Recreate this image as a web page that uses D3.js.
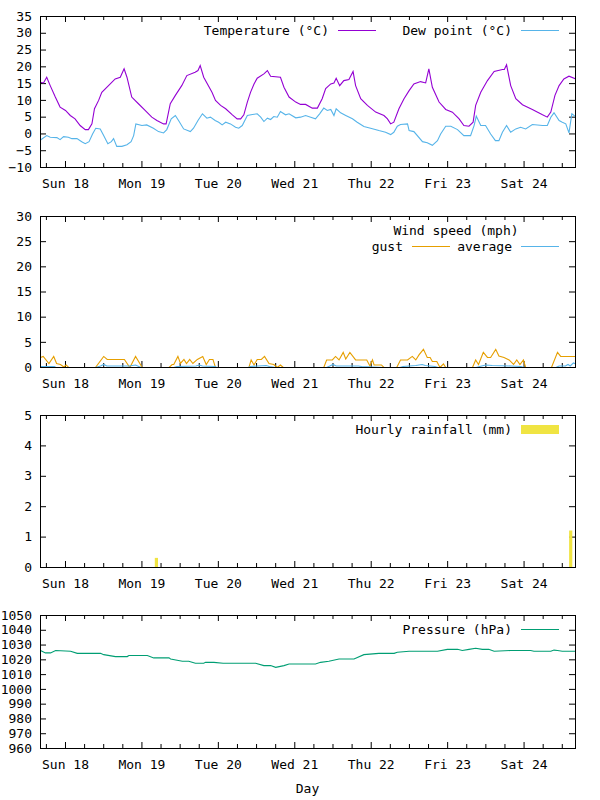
<!DOCTYPE html>
<html>
<head>
<meta charset="utf-8">
<script src="https://cdn.jsdelivr.net/npm/d3@7"></script>
<style>
body { margin: 0; background: #fff; }
text { font-family: "DejaVu Sans Mono", monospace; font-size: 13px; fill: #000; }
</style>
</head>
<body>
<script>
// all series: [hours from Sun 18 00:00, value]
const temperature = [
  [-7.85,15.4],[-6.9,15.2],[-5.9,16.9],[-4.8,14.4],[-3.2,11],[-1.7,8.0],[0,7.0],[1.5,5.5],[3.0,4.5],
  [4.6,2.5],[6.2,1.3],[7.2,1.3],[8.3,3.0],[9.1,7.5],[10.4,10],[11.4,12.4],[13.5,14.4],[15.6,16.4],
  [17.2,16.9],[18.4,19.4],[19.3,16.9],[20.8,11],[22.9,9],[25.0,7],[27.1,5],[28.7,4],[30.8,3],[31.6,3],
  [32.9,9],[34.5,11.5],[36.5,14.4],[38.1,17.4],[40.7,18.4],[41.6,18.9],[42.3,20.4],[43.4,16.9],
  [46.0,12.4],[47.1,10.0],[48.7,8.5],[50.3,7.5],[52.4,5.7],[53.9,4.5],[55.0,4.5],[56.0,5.7],[57.1,9.5],
  [58.1,12.4],[59.2,14.9],[60.2,16.6],[62.3,17.9],[63.4,18.9],[64.4,17.2],[67.5,16.9],[68.6,13.9],
  [70.2,11],[72.3,9.5],[73.8,8.8],[75.4,8.8],[77.5,7.7],[79.1,7.7],[80.6,10.5],[81.7,13.5],[83.3,14.9],
  [84.3,15.2],[85.0,16.6],[86.1,14.4],[87.4,15.9],[89.0,16.2],[90.3,18.6],[91.1,14.4],[92.7,10.5],
  [94.8,8.5],[97.4,6.5],[100.0,5.5],[101.1,4.5],[102.1,3.0],[103.1,3.5],[104.7,7.5],[106.3,10.5],
  [107.9,12.9],[109.4,14.9],[111.5,15.6],[113.1,15.2],[114.1,19.4],[115.2,13.9],[117.3,9.5],[119.4,7.3],
  [121.5,6.5],[123.6,4.5],[125.1,2.5],[126.7,2.3],[128.0,3.5],[128.8,8.5],[130.4,12.4],[132.5,15.9],
  [134.6,18.6],[137.2,19.2],[137.8,19.2],[138.5,20.6],[139.8,14.4],[141.4,10.5],[143.5,8.7],[146.6,7.3],
  [149.8,5.7],[151.3,5.0],[152.4,6.5],[153.7,11.5],[155.0,14.4],[156.5,16.4],[158.1,17.2],[160.15,16.4]
];
const dewPoint = [
  [-7.85,-1.8],[-5.9,-0.5],[-4.8,-1.0],[-2.7,-1.1],[-1.7,-1.7],[-0.6,-0.8],[0.9,-1.0],[2.0,-1.4],
  [3.6,-1.4],[5.1,-2.3],[6.2,-2.9],[7.4,-2.3],[8.5,0.0],[9.5,1.7],[10.9,1.5],[11.9,-0.3],[13.3,-2.9],
  [14.4,-2.3],[15.1,-1.4],[16.1,-3.7],[17.7,-3.7],[19.3,-3.2],[20.6,-2.3],[21.4,-0.5],[22.1,3.0],
  [24.0,2.5],[25.5,2.7],[27.6,1.7],[29.2,0.7],[30.8,0.3],[31.8,1.3],[33.2,4.5],[34.5,5.5],[35.5,4.0],
  [37.1,1.5],[39.2,0.7],[40.2,1.7],[41.6,4.0],[43.0,6.0],[44.4,4.7],[45.5,5.0],[47.0,4.0],[48.1,3.5],
  [49.2,2.7],[50.3,3.5],[51.8,3.0],[53.4,2.0],[54.4,1.7],[55.5,2.5],[57.1,5.5],[58.7,5.8],[60.2,6.0],
  [61.3,5.0],[62.3,3.7],[63.4,4.7],[64.4,4.3],[65.4,5.2],[66.5,5.0],[67.5,6.7],[69.1,5.7],[70.2,6.0],
  [72.3,4.8],[73.8,5.0],[75.4,5.5],[77.0,5.0],[78.5,4.5],[79.8,6.0],[81.1,7.7],[82.2,7.0],[83.3,7.3],
  [84.3,5.5],[85.0,7.5],[86.4,6.3],[88.0,5.5],[90.1,4.5],[91.6,3.5],[93.7,2.2],[95.8,1.7],[98.4,1.0],
  [100.5,0.5],[102.1,-0.2],[103.1,0.5],[104.2,2.3],[105.2,2.8],[107.4,3.0],[107.9,1.0],[109.4,0.7],
  [112.1,-2.3],[113.6,-2.6],[115.2,-3.4],[116.8,-2.0],[117.8,0.0],[119.4,2.3],[121.0,2.3],[123.1,1.3],
  [125.1,-0.5],[127.2,-0.5],[128.3,2.5],[129.0,5.3],[130.4,2.5],[131.9,2.5],[133.5,0.0],[135.0,-2.0],
  [136.1,-2.0],[137.2,0.5],[138.5,2.5],[139.8,0.5],[141.4,1.5],[142.9,2.0],[144.5,1.5],[146.6,2.8],
  [149.8,2.5],[151.3,2.5],[152.4,5.0],[153.4,6.3],[155.0,4.0],[156.0,3.5],[157.1,3.0],[158.1,0.3],
  [159.0,6.0],[160.15,5.2]
];
const windGust = [
  [-7.85,2.0],[-7.0,2.2],[-5.2,0.8],[-3.7,2.2],[-2.8,0.8],[-1.6,0.6],[-0.5,0.1],[0.2,0.5],[1.0,0],
  [9.4,0],[12.0,2.2],[13.1,1.6],[18.5,1.6],[20.2,0],[22.0,2.2],[24.1,0],[32.5,0],[33.5,0.6],[34.0,0.6],
  [35.3,2.2],[36.1,0.8],[37.2,1.6],[38.0,0.8],[39.0,1.6],[40.0,0.8],[41.4,1.6],[43.1,2.2],[44.2,0.6],
  [45.2,1.6],[46.3,1.6],[47.1,0],[57.6,0],[58.3,1.5],[59.2,0.5],[60.2,1.6],[61.5,1.6],[62.5,2.2],
  [63.9,0.8],[65.4,0.6],[66.5,0],[67.5,0.5],[68.4,0],[81.1,0],[82.0,1.5],[83.8,1.5],[84.8,2.2],
  [85.9,1.5],[87.2,3.0],[88.0,1.7],[89.3,3.0],[91.1,1.5],[94.6,1.5],[95.6,0.3],[96.4,1.5],[96.9,0.5],
  [99.2,0.5],[100.0,0],[104.0,0],[105.2,1.5],[107.4,1.5],[108.9,2.2],[110.0,1.5],[111.0,2.5],
  [112.4,3.6],[113.6,2.0],[114.5,2.0],[115.2,1.2],[116.6,1.2],[117.6,0],[118.7,0.7],[119.4,0],
  [127.8,0],[128.8,1.5],[129.7,0.6],[131.2,3.0],[132.5,2.0],[133.5,2.0],[135.1,3.6],[136.1,2.3],
  [137.7,2.0],[139.3,1.5],[140.7,0.6],[141.7,1.5],[142.7,0.6],[143.8,1.5],[144.5,0],[152.6,0],
  [154.5,3.0],[155.5,2.2],[160.15,2.2]
];
const windAverage = [
  [-7.85,0.2],[-3.5,0.2],[-3,0],[9.5,0],[11,0.3],[12,0.6],[13,0.3],[20,0.3],[21,0.4],[22,0.5],
  [23,0.2],[24,0],[34,0],[35,0.2],[41,0.3],[42,0.5],[43,0.3],[47,0.2],[47.5,0],[57.5,0],[58,0.2],
  [63,0.4],[64,0.2],[66,0],[82,0],[83,0.3],[84,0.6],[85,0.3],[92,0.3],[93,0.2],[100,0],[105,0],
  [106,0.2],[110,0.4],[112,0.6],[113,0.4],[116,0.2],[117,0],[129,0],[130,0.2],[132,0.5],[134,0.4],
  [140,0.3],[143,0.2],[144,0],[154,0],[155,0.3],[157,0.3],[157.8,0.6],[158.5,0.3],[159.5,0.9],[160.15,0.7]
];
const rainfall = [[28.7,0.3],[158.8,1.2]];
const pressure = [
  [-7.85,1026.3],[-6.3,1024.7],[-4.7,1024.7],[-3.1,1026.3],[1.6,1025.8],[3.7,1024.4],[11.0,1024.4],
  [12.0,1023.5],[15.7,1022.2],[19.4,1022.2],[19.9,1022.9],[25.7,1022.9],[27.7,1021.3],[32.5,1021.3],
  [33.0,1020.6],[36.7,1019.0],[38.7,1019.0],[40.8,1017.7],[43.4,1017.7],[44.0,1018.3],[46.6,1018.3],
  [49.5,1017.7],[59.7,1017.7],[62.3,1016.1],[64.4,1016.1],[66.0,1014.9],[68.6,1016.1],[70.2,1017.2],
  [78.5,1017.2],[80.1,1018.3],[82.7,1019.0],[85.9,1020.6],[90.6,1020.6],[93.7,1023.5],[98.4,1024.4],
  [103.2,1024.4],[104.2,1025.1],[107.9,1025.8],[116.8,1025.8],[119.9,1027.1],[123.1,1027.1],
  [124.6,1026.3],[126.7,1027.1],[128.8,1027.8],[130.9,1027.1],[132.9,1027.1],[134.6,1025.8],
  [139.8,1026.3],[146.1,1026.3],[147.1,1025.8],[152.4,1025.8],[153.4,1026.6],[154.5,1026.3],
  [156.0,1025.8],[160.15,1025.8]
];

const tempTicks = [-10, -5, 0, 5, 10, 15, 20, 25, 30, 35];
const windTicks = [0, 5, 10, 15, 20, 25, 30];
const rainTicks = [0, 1, 2, 3, 4, 5];
const pressureTicks = [960, 970, 980, 990, 1000, 1010, 1020, 1030, 1040, 1050];

const base = Date.UTC(2012, 2, 18);
const t = h => new Date(base + h * 3600e3);

const left = 40, right = 575;
const svg = d3.select('body').append('svg')
    .attr('width', 600)
    .attr('height', 800);

const x = d3.scaleUtc()
    .domain([t(-7.85), t(160.15)])
    .range([left, right]);
const days = d3.utcDay.range(x.domain()[0], x.domain()[1]);
const quarters = d3.utcHour.every(6).range(x.domain()[0], x.domain()[1])
    .filter(d => d.getUTCHours() !== 0);

function panel(name, top, bottom, ticks) {
    const y = d3.scaleLinear()
        .domain([ticks[0], ticks[ticks.length - 1]])
        .range([bottom, top]);

    svg.append('clipPath').attr('id', 'clip-' + name)
        .append('rect')
        .attr('x', left).attr('y', top - 1)
        .attr('width', right - left).attr('height', bottom - top + 2);

    const axes = svg.append('g');
    const bx = axes.append('g')
        .attr('transform', `translate(0,${bottom})`)
        .call(d3.axisBottom(x).tickValues(days).tickFormat(d3.utcFormat('%a %d')).tickSize(-6));
    bx.selectAll('text').attr('y', 16).attr('dy', '0.35em');
    axes.append('g')
        .attr('transform', `translate(0,${bottom})`)
        .call(d3.axisBottom(x).tickValues(quarters).tickFormat('').tickSize(-4));
    axes.append('g')
        .attr('transform', `translate(0,${top})`)
        .call(d3.axisTop(x).tickValues(days).tickFormat('').tickSize(-6));
    axes.append('g')
        .attr('transform', `translate(0,${top})`)
        .call(d3.axisTop(x).tickValues(quarters).tickFormat('').tickSize(-4));
    axes.append('g')
        .attr('transform', `translate(${left},0)`)
        .call(d3.axisLeft(y).tickValues(ticks).tickFormat(d3.format('d')).tickSize(-6).tickPadding(8));
    axes.append('g')
        .attr('transform', `translate(${right},0)`)
        .call(d3.axisRight(y).tickValues(ticks).tickFormat('').tickSize(-6));
    axes.selectAll('.domain').remove();

    const plot = svg.append('g')
        .attr('clip-path', `url(#clip-${name})`);

    return {y, plot, top, bottom};
}

function series(p, data, color) {
    const line = d3.line()
        .x(d => x(t(d[0])))
        .y(d => p.y(d[1]));
    p.plot.append('path')
        .datum(data)
        .attr('transform', 'translate(0.5,0.5)')
        .attr('fill', 'none')
        .attr('stroke', color)
        .attr('stroke-width', 1.1)
        .attr('d', line);
}

function frame(p) {
    svg.append('rect')
        .attr('x', left + 0.5).attr('y', p.top + 0.5)
        .attr('width', right - left).attr('height', p.bottom - p.top)
        .attr('fill', 'none')
        .attr('stroke', '#000');
}

function key(textEnd, y, label, color, box) {
    svg.append('text')
        .attr('x', textEnd).attr('y', y).attr('dy', '0.35em')
        .attr('text-anchor', 'end')
        .text(label);
    if (box) {
        svg.append('rect')
            .attr('x', textEnd + 9).attr('y', y - 4)
            .attr('width', 38).attr('height', 9)
            .attr('fill', color);
    } else {
        svg.append('line')
            .attr('x1', textEnd + 9).attr('x2', textEnd + 47)
            .attr('y1', y + 0.5).attr('y2', y + 0.5)
            .attr('stroke', color);
    }
}

// temperature
const p1 = panel('temp', 16, 167, tempTicks);
series(p1, temperature, '#9400d3');
series(p1, dewPoint, '#56b4e9');
frame(p1);
key(329, 30, 'Temperature (°C)', '#9400d3');
key(512, 30, 'Dew point (°C)', '#56b4e9');

// wind
const p2 = panel('wind', 216, 367, windTicks);
series(p2, windGust, '#e69f00');
series(p2, windAverage, '#56b4e9');
frame(p2);
svg.append('text')
    .attr('x', 456).attr('y', 230).attr('dy', '0.35em')
    .attr('text-anchor', 'middle')
    .text('Wind speed (mph)');
key(403, 246, 'gust', '#e69f00');
key(512, 246, 'average', '#56b4e9');

// rain
const p3 = panel('rain', 415, 567, rainTicks);
p3.plot.selectAll('rect.bar')
    .data(rainfall)
    .enter()
    .append('rect')
    .attr('class', 'bar')
    .attr('x', d => x(t(d[0] - 0.5)))
    .attr('width', d => x(t(d[0] + 0.5)) - x(t(d[0] - 0.5)))
    .attr('y', d => p3.y(d[1]))
    .attr('height', d => p3.y(0) - p3.y(d[1]))
    .attr('fill', '#f0e442');
frame(p3);
key(512, 429, 'Hourly rainfall (mm)', '#f0e442', true);

// pressure
const p4 = panel('pres', 615, 748, pressureTicks);
series(p4, pressure, '#009e73');
frame(p4);
key(512, 629, 'Pressure (hPa)', '#009e73');

svg.append('text')
    .attr('x', (left + right) / 2).attr('y', 788).attr('dy', '0.35em')
    .attr('text-anchor', 'middle')
    .text('Day');
</script>
</body>
</html>
